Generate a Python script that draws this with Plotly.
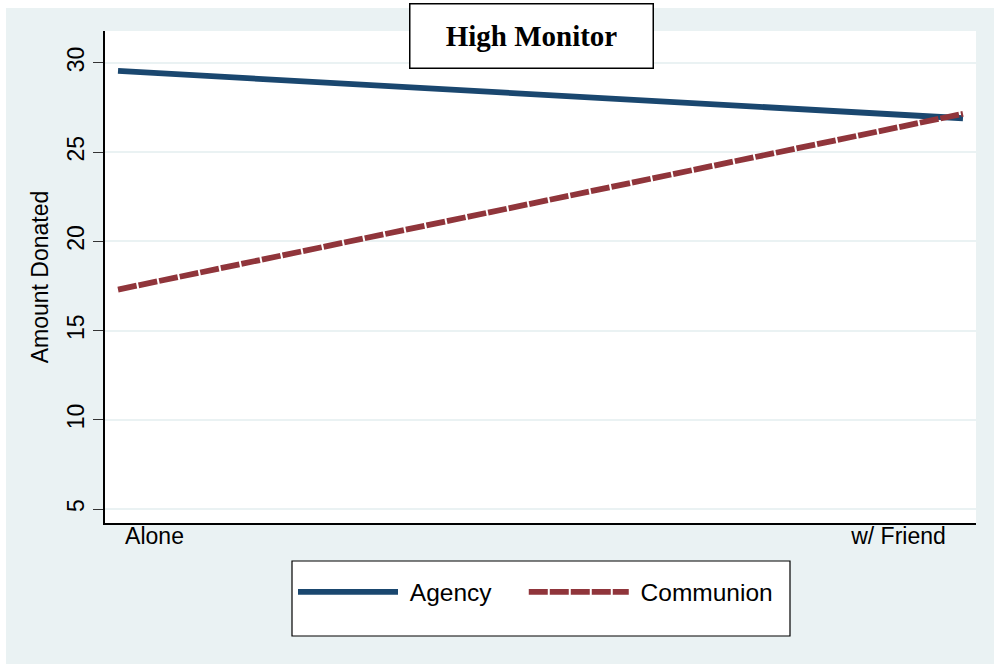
import plotly.graph_objects as go

conditions = ["Alone", "w/ Friend"]
x_pos = [0, 1]
label_pos = [0.0432, 0.9237]
agency = [29.55, 26.9]
communion = [17.3, 27.15]
y_ticks = [5, 10, 15, 20, 25, 30]

BLUE = "#1A476F"
RED = "#90353B"
BG = "#EAF2F3"
FONT = "Liberation Sans, Arial, sans-serif"
NB = "\u00a0"

W, H = 994, 664
L, R, T, B = 105, 18, 31, 141
pw, ph = W - L - R, H - T - B

def px_x(p):
    return (p - L) / pw

def px_y(p):
    return (H - B - p) / ph

fig = go.Figure()
fig.add_trace(go.Scatter(x=x_pos, y=agency, mode="lines", name=NB + "Agency" + NB * 4,
                         line=dict(color=BLUE, width=5.8)))
fig.add_trace(go.Scatter(x=x_pos, y=communion, mode="lines", name=NB + "Communion",
                         line=dict(color=RED, width=5.8, dash="19px,2px")))

shapes = [
    dict(type="rect", xref="paper", yref="paper", layer="below",
         x0=px_x(-5), x1=px_x(6), y0=px_y(-5), y1=px_y(670),
         fillcolor="white", line=dict(width=0)),
    dict(type="rect", xref="paper", yref="paper", layer="below",
         x0=px_x(-5), x1=px_x(1000), y0=px_y(-5), y1=px_y(8),
         fillcolor="white", line=dict(width=0)),
    dict(type="rect", xref="paper", yref="paper", layer="above",
         x0=px_x(292), x1=px_x(790), y0=px_y(561), y1=px_y(636),
         fillcolor="white", line=dict(color="black", width=1.2)),
]

fig.update_layout(
    width=W, height=H,
    margin=dict(l=L, r=R, t=T, b=B),
    paper_bgcolor=BG,
    plot_bgcolor="white",
    font=dict(family=FONT, size=23, color="black"),
    showlegend=True,
    legend=dict(orientation="h", x=px_x(293), xanchor="left",
                y=px_y(592), yanchor="middle",
                bgcolor="rgba(0,0,0,0)", borderwidth=0,
                itemwidth=100,
                font=dict(size=24.5, family=FONT)),
    shapes=shapes,
    annotations=[
        dict(text="<b>High Monitor</b>", xref="paper", yref="paper",
             x=px_x(531), y=px_y(35.5), xanchor="center", yanchor="middle",
             showarrow=False,
             font=dict(family="Liberation Serif, Times New Roman, serif", size=29, color="black"),
             bgcolor="white", bordercolor="black", borderwidth=1.5,
             width=240, height=61, borderpad=1),
    ],
)

fig.update_xaxes(
    range=[-0.0154, 1.0154],
    tickvals=label_pos, ticktext=conditions,
    ticks="", showgrid=False, zeroline=False,
    showline=True, linecolor="black", linewidth=1.5,
    tickfont=dict(size=23), ticklabelstandoff=-8,
)
fig.update_yaxes(
    range=[4.22, 31.79],
    tickvals=y_ticks, ticktext=[str(v) for v in y_ticks],
    ticks="outside", ticklen=10, tickcolor="#333333", tickwidth=1,
    tickangle=-90, tickfont=dict(size=23),
    showgrid=True, gridcolor=BG, gridwidth=1.5, zeroline=False,
    showline=True, linecolor="black", linewidth=1.5,
    title=dict(text="Amount Donated", font=dict(size=23), standoff=8),
)

fig.write_html("out.html", config={"displayModeBar": False},
               post_script="document.body.style.margin='0';")
